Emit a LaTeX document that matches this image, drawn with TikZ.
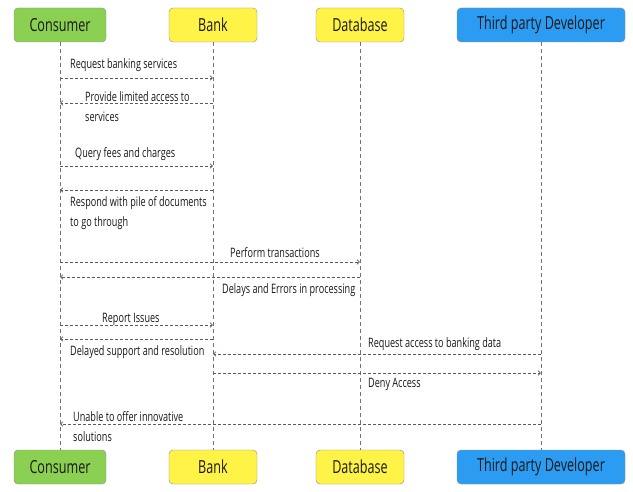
\documentclass[tikz,border=0pt]{standalone}
\usepackage{fontspec}
\setmainfont{Open Sans}[FakeStretch=0.70]
\usetikzlibrary{arrows.meta}
\definecolor{consGreen}{RGB}{139,208,82}
\definecolor{bankYellow}{RGB}{255,243,72}
\definecolor{devBlue}{RGB}{44,156,242}
\definecolor{lineGray}{RGB}{90,90,90}

\begin{document}
\begin{tikzpicture}[x=1pt, y=-1pt,
        actor/.style={draw=black!45, rounded corners=4pt, minimum height=34pt,
                      inner sep=0pt, font=\fontsize{18}{20}\selectfont, text=black!90},
        lifeline/.style={draw=black!55, dash pattern=on 4pt off 3pt, line width=0.6pt},
        msg/.style={draw=lineGray, dash pattern=on 3pt off 2pt, line width=0.7pt,
                    -{Straight Barb[length=2.5pt,width=4.5pt]}},
        lbl/.style={anchor=west, inner sep=0pt, align=left, text=black!90, yshift=-2pt,
                    font=\fontsize{13}{19.5}\selectfont}
    ]
        \useasboundingbox[fill=white] (0,0) rectangle (633,492);
        % actors, top and bottom
        \node[actor, fill=consGreen, minimum width=92pt] (consTop) at (60,25) {Consumer};
        \node[actor, fill=bankYellow, minimum width=88pt] (bankTop) at (213,25) {Bank};
        \node[actor, fill=bankYellow, minimum width=88pt] (dbTop) at (360,25) {Database};
        \node[actor, fill=devBlue, minimum width=168pt] (devTop) at (541,25) {Third party Developer};
        \node[actor, fill=consGreen, minimum width=92pt] (consBot) at (60,467) {Consumer};
        \node[actor, fill=bankYellow, minimum width=88pt] (bankBot) at (213,467) {Bank};
        \node[actor, fill=bankYellow, minimum width=88pt] (dbBot) at (360,467) {Database};
        \node[actor, fill=devBlue, minimum width=168pt] (devBot) at (541,467) {Third party Developer};
        % lifelines
        \draw[lifeline] (consTop) -- (consBot);
        \draw[lifeline] (bankTop) -- (bankBot);
        \draw[lifeline] (dbTop) -- (dbBot);
        \draw[lifeline] (devTop) -- (devBot);
        % messages
        \draw[msg] (consTop |- 0,78) -- (bankTop |- 0,78);
        \node[lbl] (m1) at (70,63) {Request banking services};
        \draw[msg] (bankTop |- 0,103) -- (consTop |- 0,103);
        \node[lbl] (m2) at (85,104.5) {Provide limited access to\\services};
        \draw[msg] (consTop |- 0,166) -- (bankTop |- 0,166);
        \node[lbl] (m3) at (75,152) {Query fees and charges};
        \draw[msg] (bankTop |- 0,190) -- (consTop |- 0,190);
        \node[lbl] (m4) at (70,211) {Respond with pile of documents\\to go through};
        \draw[msg] (consTop |- 0,262) -- (dbTop |- 0,262);
        \node[lbl] (m5) at (230,251) {Perform transactions};
        \draw[msg] (dbTop |- 0,277) -- (consTop |- 0,277);
        \node[lbl] (m6) at (222,288) {Delays and Errors in processing};
        \draw[msg] (consTop |- 0,325) -- (bankTop |- 0,325);
        \node[lbl] (m7) at (102,317) {Report Issues};
        \draw[msg] (bankTop |- 0,339) -- (consTop |- 0,339);
        \node[lbl] (m8) at (70,350) {Delayed support and resolution};
        \draw[msg] (devTop |- 0,354) -- (bankTop |- 0,354);
        \node[lbl] (m9) at (368,342) {Request access to banking data};
        \draw[msg] (bankTop |- 0,373) -- (devTop |- 0,373);
        \node[lbl] (m10) at (368,382) {Deny Access};
        \draw[msg] (devTop |- 0,424) -- (consTop |- 0,424);
        \node[lbl] (m11) at (73,424.5) {Unable to offer innovative\\solutions};
    \end{tikzpicture}
\end{document}
